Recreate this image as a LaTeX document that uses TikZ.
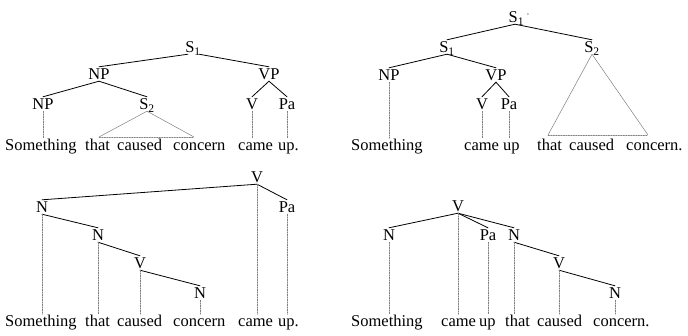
\documentclass[tikz,border=0pt]{standalone}
\usepackage{fontspec}
\setmainfont{Liberation Serif}
\begin{document}
\begin{tikzpicture}[x=1pt, y=-1pt, font=\fontsize{16.5}{18}\selectfont, line join=round, line cap=round,
		lab/.style={inner sep=1.5pt, text height=11pt, text depth=0pt},
		word/.style={anchor=base west, inner sep=1pt, text height=11pt, text depth=3pt},
		branch/.style={line width=0.8pt},
		trace/.style={gray, line width=0.5pt, dash pattern=on 1.5pt off 1pt},
		roof/.style={gray, line width=0.5pt}]
		\useasboundingbox (0,0) rectangle (688,335);
		% top left
		\node[lab] (tls) at (193,47) {S\textsubscript{1}};
		\node[lab] (tlnp) at (99,74) {NP};
		\node[lab] (tlvp) at (269,74) {VP};
		\node[lab] (tlnpb) at (43,104) {NP};
		\node[lab] (tlstwo) at (147,104) {S\textsubscript{2}};
		\node[lab] (tlv) at (252,104) {V};
		\node[lab] (tlpa) at (287,104) {Pa};
		\node[word] (tlsomething) at (4,150.5) {Something};
		\node[word] (tlthat) at (84,150.5) {that};
		\node[word] (tlcaused) at (116,150.5) {caused};
		\node[word] (tlconcern) at (172,150.5) {concern};
		\node[word] (tlcame) at (237,150.5) {came};
		\node[word] (tlup) at (277,150.5) {up.};
		\draw[branch] ([xshift=-5pt]tls.south) -- (tlnp.north);
		\draw[branch] ([xshift=6pt]tls.south) -- (tlvp.north);
		\draw[branch] (tlnp.south) -- (tlnpb.north);
		\draw[branch] (tlnp.south) -- (tlstwo.north);
		\draw[branch] (tlvp.south) -- (tlv.north);
		\draw[branch] (tlvp.south) -- (tlpa.north);
		\coordinate (tlroofl) at (99,137);
		\coordinate (tlroofr) at (194,137);
		\draw[roof] (tlroofl) -- (tlstwo.south) -- (tlroofr);
		\draw[trace] (tlroofl) -- (tlroofr);
		\draw[trace] (tlnpb.south) -- (tlnpb.south |- tlsomething.north);
		\draw[trace] (tlv.south) -- (tlv.south |- tlcame.north);
		\draw[trace] (tlpa.south) -- (tlpa.south |- tlup.north);
		% top right
		\node[lab] (trsp) at (519,17) {S\textsubscript{1}\,\raisebox{4pt}{\scriptsize'}};
		\node[lab] (trs) at (447,47) {S\textsubscript{1}};
		\node[lab] (trstwo) at (592,47) {S\textsubscript{2}};
		\node[lab] (trnp) at (389,75) {NP};
		\node[lab] (trvp) at (496,75) {VP};
		\node[lab] (trv) at (482,104) {V};
		\node[lab] (trpa) at (509,104) {Pa};
		\node[word] (trsomething) at (350,150.5) {Something};
		\node[word] (trcame) at (463,150.5) {came};
		\node[word] (trup) at (502,150.5) {up};
		\node[word] (trthat) at (536,150.5) {that};
		\node[word] (trcaused) at (568,150.5) {caused};
		\node[word] (trconcern) at (625,150.5) {concern.};
		\draw[branch] ([xshift=-4pt]trsp.south) -- (trs.north);
		\draw[branch] ([xshift=-4pt]trsp.south) -- (trstwo.north);
		\draw[branch] (trs.south) -- (trnp.north);
		\draw[branch] (trs.south) -- (trvp.north);
		\draw[branch] (trvp.south) -- (trv.north);
		\draw[branch] (trvp.south) -- (trpa.north);
		\coordinate (trroofl) at (548,135);
		\coordinate (trroofr) at (648,135);
		\draw[roof] (trroofl) -- (trstwo.south) -- (trroofr);
		\draw[trace] (trroofl) -- (trroofr);
		\draw[trace] (trnp.south) -- (trnp.south |- trsomething.north);
		\draw[trace] (trv.south) -- (trv.south |- trcame.north);
		\draw[trace] (trpa.south) -- (trpa.south |- trup.north);
		% bottom left
		\node[lab] (blv) at (257,177) {V};
		\node[lab] (bln) at (42,207) {N};
		\node[lab] (blpa) at (287,207) {Pa};
		\node[lab] (blnb) at (98,235) {N};
		\node[lab] (blvb) at (140,263) {V};
		\node[lab] (blnc) at (200,293) {N};
		\node[word] (blsomething) at (4,326.5) {Something};
		\node[word] (blthat) at (84,326.5) {that};
		\node[word] (blcaused) at (116,326.5) {caused};
		\node[word] (blconcern) at (172,326.5) {concern};
		\node[word] (blcame) at (237,326.5) {came};
		\node[word] (blup) at (277,326.5) {up.};
		\draw[branch] (blv.south) -- (bln.north);
		\draw[branch] (blv.south) -- (blpa.north);
		\draw[branch] (bln.south) -- (blnb.north);
		\draw[branch] (blnb.south) -- (blvb.north);
		\draw[branch] (blvb.south) -- (blnc.north);
		\draw[trace] (bln.south) -- (bln.south |- blsomething.north);
		\draw[trace] (blnb.south) -- (blnb.south |- blthat.north);
		\draw[trace] (blvb.south) -- (blvb.south |- blcaused.north);
		\draw[trace] (blnc.south) -- (blnc.south |- blconcern.north);
		\draw[trace] (blv.south) -- (blv.south |- blcame.north);
		\draw[trace] (blpa.south) -- (blpa.south |- blup.north);
		% bottom right
		\node[lab] (brv) at (458,206) {V};
		\node[lab] (brn) at (389,235) {N};
		\node[lab] (brpa) at (488,235) {Pa};
		\node[lab] (brnb) at (514,235) {N};
		\node[lab] (brvb) at (559,263) {V};
		\node[lab] (brnc) at (615,293) {N};
		\node[word] (brsomething) at (350,326.5) {Something};
		\node[word] (brcame) at (440,326.5) {came};
		\node[word] (brup) at (478,326.5) {up};
		\node[word] (brthat) at (504,326.5) {that};
		\node[word] (brcaused) at (536,326.5) {caused};
		\node[word] (brconcern) at (592,326.5) {concern.};
		\draw[branch] (brv.south) -- (brn.north);
		\draw[branch] (brv.south) -- (brpa.north);
		\draw[branch] (brv.south) -- (brnb.north);
		\draw[branch] (brnb.south) -- (brvb.north);
		\draw[branch] (brvb.south) -- (brnc.north);
		\draw[trace] (brn.south) -- (brn.south |- brsomething.north);
		\draw[trace] (brv.south) -- (brv.south |- brcame.north);
		\draw[trace] (brpa.south) -- (brpa.south |- brup.north);
		\draw[trace] (brnb.south) -- (brnb.south |- brthat.north);
		\draw[trace] (brvb.south) -- (brvb.south |- brcaused.north);
		\draw[trace] (brnc.south) -- (brnc.south |- brconcern.north);
	\end{tikzpicture}
\end{document}
